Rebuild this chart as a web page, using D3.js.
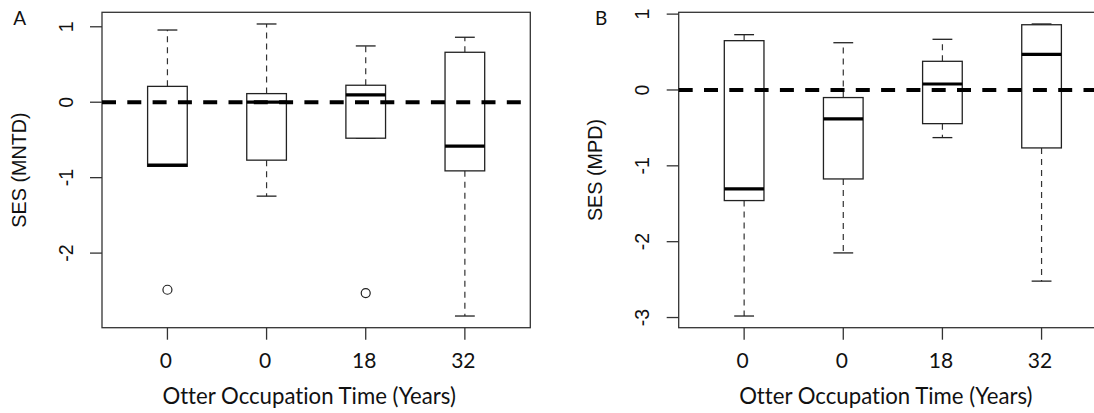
<!DOCTYPE html>
<html>
<head>
<meta charset="utf-8">
<script src="https://cdn.jsdelivr.net/npm/d3@7"></script>
<style>
  body { margin: 0; background: #fff; }
  svg { display: block; }
  text { font-variant-ligatures: none; }
</style>
</head>
<body>
<div id="chart"></div>
<script>
// groups (x tick labels)
var groups = ["0", "0", "18", "32"]

// panel A: SES (MNTD)
var lowA = [-0.85, -1.245, -0.477, -2.834]
var q1A = [-0.85, -0.768, -0.477, -0.91]
var medA = [-0.834, 0.0, 0.097, -0.583]
var q3A = [0.21, 0.114, 0.225, 0.662]
var highA = [0.957, 1.037, 0.746, 0.861]
var outA = [[0, -2.486], [2, -2.53]]
var ticksA = [-2, -1, 0, 1]

// panel B: SES (MPD)
var lowB = [-2.98, -2.148, -0.628, -2.52]
var q1B = [-1.458, -1.173, -0.444, -0.764]
var medB = [-1.304, -0.382, 0.079, 0.47]
var q3B = [0.65, -0.10, 0.378, 0.86]
var highB = [0.729, 0.623, 0.668, 0.87]
var outB = []
var ticksB = [-3, -2, -1, 0, 1]

var xTitle = "Otter Occupation Time (Years)"

var svg = d3.select("#chart")
  .append("svg")
  .attr("width", 1094)
  .attr("height", 413)

function drawPanel(opt) {
  var width = 428.3, height = 315.4
  var g = svg.append("g")
    .attr("transform", "translate(" + opt.left + "," + opt.top + ")")

  // R style axis ranges: 4% padding each side
  var n = groups.length
  var x = d3.scaleLinear()
    .domain([0.5 - n * 0.04, n + 0.5 + n * 0.04])
    .range([0, width])

  var all = opt.low.concat(opt.high, opt.out.map(function (d) { return d[1] }))
  var lo = d3.min(all), hi = d3.max(all), pad = (hi - lo) * 0.04
  var y = d3.scaleLinear()
    .domain([lo - pad, hi + pad])
    .range([height, 0])

  var boxW = x(1.4) - x(1)
  var capW = boxW / 2
  var ink = "#222"

  // y axis ticks + rotated labels
  var yAxis = g.append("g")
  yAxis.selectAll("line")
    .data(opt.ticks)
    .enter()
    .append("line")
    .attr("x1", -12).attr("x2", 0)
    .attr("y1", function (d) { return y(d) }).attr("y2", function (d) { return y(d) })
    .attr("stroke", "#333").attr("stroke-width", 1.3)
  yAxis.selectAll("text")
    .data(opt.ticks)
    .enter()
    .append("text")
    .attr("transform", function (d) { return "translate(-29.3," + y(d) + ") rotate(-90)" })
    .attr("text-anchor", "middle")
    .attr("font-family", "Liberation Sans, Arial, sans-serif")
    .attr("font-size", 19.5)
    .attr("fill", "#111")
    .text(function (d) { return d })

  g.append("text")
    .attr("transform", "translate(-76.5," + (height / 2) + ") rotate(-90)")
    .attr("text-anchor", "middle")
    .attr("font-family", "Liberation Sans, Arial, sans-serif")
    .attr("font-size", 19.8)
    .attr("fill", "#111")
    .text(opt.ylab)

  // x ticks
  var xAxis = g.append("g")
  xAxis.selectAll("line")
    .data(groups)
    .enter()
    .append("line")
    .attr("x1", function (d, i) { return x(i + 1) }).attr("x2", function (d, i) { return x(i + 1) })
    .attr("y1", height).attr("y2", height + 12)
    .attr("stroke", "#333").attr("stroke-width", 1.3)
  xAxis.selectAll("text")
    .data(groups)
    .enter()
    .append("text")
    .attr("x", function (d, i) { return x(i + 1) - 1.5 })
    .attr("y", 367.7 - opt.top)
    .attr("text-anchor", "middle")
    .attr("font-family", "Lato, sans-serif")
    .attr("font-size", 21)
    .attr("fill", "#111")
    .text(function (d) { return d })

  g.append("text")
    .attr("x", width / 2 - 7)
    .attr("y", 404 - opt.top)
    .attr("text-anchor", "middle")
    .attr("font-family", "Lato, sans-serif")
    .attr("font-size", 22.2)
    .attr("fill", "#111")
    .text(xTitle)

  // whiskers (dashed) and caps
  var idx = d3.range(n)
  g.selectAll(".wlo").data(idx).enter().append("line")
    .attr("x1", function (i) { return x(i + 1) }).attr("x2", function (i) { return x(i + 1) })
    .attr("y1", function (i) { return y(opt.q1[i]) }).attr("y2", function (i) { return y(opt.low[i]) })
    .attr("stroke", "#333").attr("stroke-width", 1.2).attr("stroke-dasharray", "6,5")
  g.selectAll(".whi").data(idx).enter().append("line")
    .attr("x1", function (i) { return x(i + 1) }).attr("x2", function (i) { return x(i + 1) })
    .attr("y1", function (i) { return y(opt.q3[i]) }).attr("y2", function (i) { return y(opt.high[i]) })
    .attr("stroke", "#333").attr("stroke-width", 1.2).attr("stroke-dasharray", "6,5")
  g.selectAll(".caplo").data(idx).enter().append("line")
    .attr("x1", function (i) { return x(i + 1) - capW / 2 }).attr("x2", function (i) { return x(i + 1) + capW / 2 })
    .attr("y1", function (i) { return y(opt.low[i]) }).attr("y2", function (i) { return y(opt.low[i]) })
    .attr("stroke", ink).attr("stroke-width", 1.3)
  g.selectAll(".caphi").data(idx).enter().append("line")
    .attr("x1", function (i) { return x(i + 1) - capW / 2 }).attr("x2", function (i) { return x(i + 1) + capW / 2 })
    .attr("y1", function (i) { return y(opt.high[i]) }).attr("y2", function (i) { return y(opt.high[i]) })
    .attr("stroke", ink).attr("stroke-width", 1.3)

  // boxes
  g.selectAll(".box").data(idx).enter().append("rect")
    .attr("x", function (i) { return x(i + 1) - boxW / 2 })
    .attr("y", function (i) { return y(opt.q3[i]) })
    .attr("width", boxW)
    .attr("height", function (i) { return y(opt.q1[i]) - y(opt.q3[i]) })
    .attr("fill", "#fff")
    .attr("stroke", ink).attr("stroke-width", 1.3)

  // medians
  g.selectAll(".med").data(idx).enter().append("line")
    .attr("x1", function (i) { return x(i + 1) - boxW / 2 }).attr("x2", function (i) { return x(i + 1) + boxW / 2 })
    .attr("y1", function (i) { return y(opt.med[i]) }).attr("y2", function (i) { return y(opt.med[i]) })
    .attr("stroke", "#000").attr("stroke-width", 3.2)

  // outliers
  g.selectAll(".out").data(opt.out).enter().append("circle")
    .attr("cx", function (d) { return x(d[0] + 1) })
    .attr("cy", function (d) { return y(d[1]) })
    .attr("r", 4.5)
    .attr("fill", "none")
    .attr("stroke", ink).attr("stroke-width", 1.2)

  // frame
  g.append("rect")
    .attr("width", width).attr("height", height)
    .attr("fill", "none")
    .attr("stroke", "#333").attr("stroke-width", 1.3)

  // reference line at 0
  g.append("line")
    .attr("x1", 0).attr("x2", width)
    .attr("y1", y(0)).attr("y2", y(0))
    .attr("stroke", "#000").attr("stroke-width", 4)
    .attr("stroke-dasharray", "14,11.3")

  // panel letter
  svg.append("text")
    .attr("x", opt.left + opt.letterDx)
    .attr("y", 25)
    .attr("text-anchor", "middle")
    .attr("font-family", "Lato, sans-serif")
    .attr("font-size", 19)
    .attr("fill", "#111")
    .text(opt.letter)
}

drawPanel({ left: 102, top: 12.3, low: lowA, q1: q1A, med: medA, q3: q3A, high: highA,
  out: outA, ticks: ticksA, ylab: "SES (MNTD)", letter: "A", letterDx: -82.3 })
drawPanel({ left: 678.7, top: 12.3, low: lowB, q1: q1B, med: medB, q3: q3B, high: highB,
  out: outB, ticks: ticksB, ylab: "SES (MPD)", letter: "B", letterDx: -77.5 })
</script>
</body>
</html>
